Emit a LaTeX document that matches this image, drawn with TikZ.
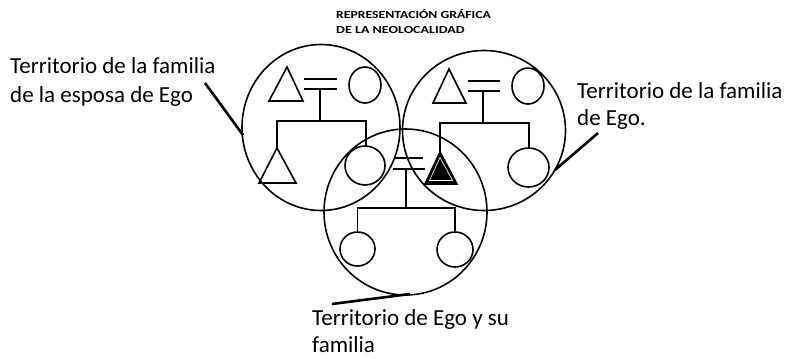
\documentclass[tikz,border=0pt]{standalone}
\usepackage{fontspec}
\setmainfont{Carlito}
\begin{document}
\begin{tikzpicture}[x=1bp,y=-1bp,
  sym/.style={line width=1.6bp, line join=miter},
  leader/.style={line width=2.6bp},
  lbl/.style={anchor=base west, inner sep=0pt, font=\fontsize{23bp}{28bp}\selectfont, text=black},
  ttl/.style={anchor=base west, inner sep=0pt, font=\fontsize{10.8bp}{13bp}\selectfont\bfseries, text=black}]
\useasboundingbox[fill=white] (0,0) rectangle (788,358);
% territory circles
\draw[sym] (321,127.5) ellipse [x radius=79bp, y radius=83bp];
\draw[sym] (484,130.5) ellipse [x radius=81.5bp, y radius=80bp];
\draw[sym] (405.5,212) ellipse [x radius=81.5bp, y radius=83bp];
% left family
\draw[sym] (287,67) -- (269,101) -- (303,101) -- cycle;
\draw[sym] (365,85) ellipse [x radius=16bp, y radius=18bp];
\draw[sym] (304,79) -- (337,79) (304,89) -- (337,89);
\draw[sym] (320,89) -- (320,121) (277,148) -- (277,121) -- (366,121) -- (366,146);
\draw[sym] (277,148) -- (259,183) -- (296,183) -- cycle;
\draw[sym] (365,165.5) ellipse [x radius=20bp, y radius=19.5bp];
% right family
\draw[sym] (449,69) -- (433,103) -- (466,103) -- cycle;
\draw[sym] (528,86) ellipse [x radius=16bp, y radius=18bp];
\draw[sym] (468,81) -- (500,81) (468,91) -- (500,91);
\draw[sym] (483,91) -- (483,123) (440,152) -- (440,123) -- (529,123) -- (529,148);
\draw[sym, fill=black] (440,152) -- (425,184) -- (457,184) -- cycle;
\draw[white, line width=0.6bp] (440,157.5) -- (429.5,180.5) -- (452.5,180.5) -- cycle;
\draw[sym] (528.5,167.5) ellipse [x radius=20.5bp, y radius=19.5bp];
% neolocal family
\draw[sym] (395,158) -- (423,158) (393,169) -- (425,169);
\draw[sym] (406,169) -- (406,208) (357.5,232) -- (357.5,208) -- (455,208) -- (455,232);
\draw[sym] (357.5,249) ellipse [x radius=17.5bp, y radius=17bp];
\draw[sym] (455,249.5) ellipse [x radius=18bp, y radius=17.5bp];
% title
\node[ttl] (t1) at (336,18) {\scalebox{1.27}[1]{REPRESENTACIÓN GRÁFICA}};
\node[ttl] (t2) at (336,33) {\scalebox{1.3}[1]{DE LA NEOLOCALIDAD}};
% labels
\node[lbl] (l1) at (10,73) {Territorio de la familia};
\node[lbl] (l2) at (10,102) {de la esposa de Ego};
\node[lbl] (r1) at (577,98) {Territorio de la familia};
\node[lbl] (r2) at (577,125) {de Ego.};
\node[lbl] (b1) at (312,325) {Territorio de Ego y su};
\node[lbl] (b2) at (312,352) {familia};
% leaders
\coordinate (la) at (205,83); \coordinate (lb) at (243,135);
\coordinate (ra) at (598,133); \coordinate (rb) at (555,170);
\coordinate (ba) at (332,304); \coordinate (bb) at (410,294);
\draw[leader] (la) -- (lb);
\draw[leader] (ra) -- (rb);
\draw[leader] (ba) -- (bb);
\end{tikzpicture}
\end{document}
